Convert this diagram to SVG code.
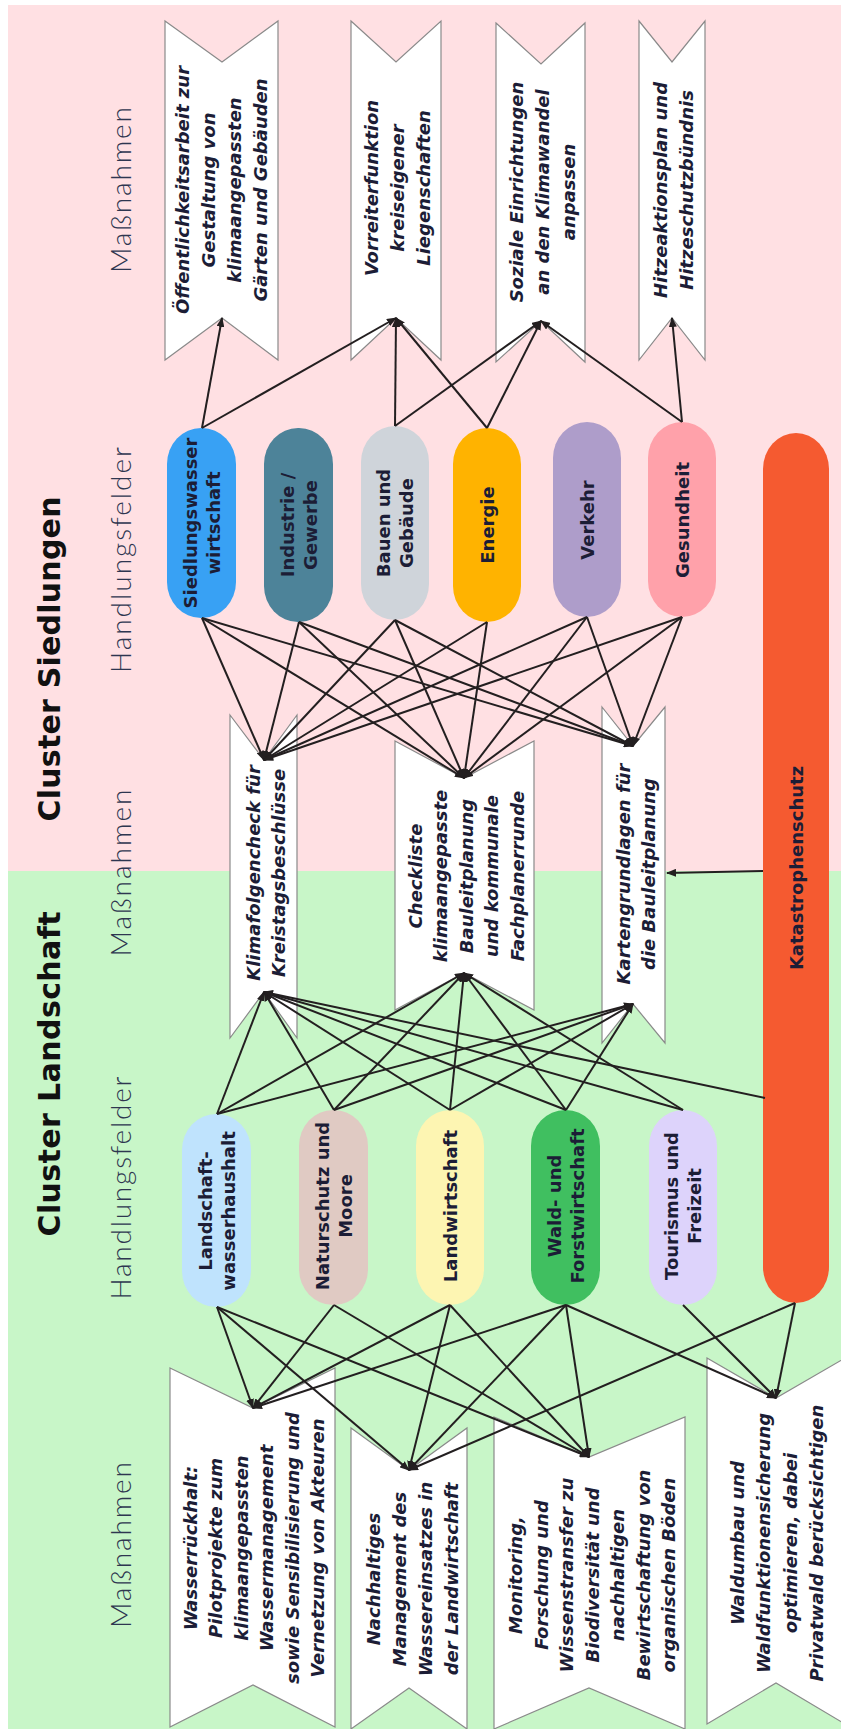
<svg xmlns="http://www.w3.org/2000/svg" width="841" height="1729" viewBox="0 0 841 1729">
<defs>
<style>
.title{font-family:"DejaVu Sans",sans-serif;font-weight:bold;font-size:30px;fill:#111;text-anchor:middle}
.col{font-family:Lato,"DejaVu Sans",sans-serif;font-weight:300;font-size:28px;fill:#2e3650;text-anchor:middle}
.pt{font-family:"DejaVu Sans",sans-serif;font-weight:bold;font-size:18px;fill:#1c1d36;text-anchor:middle}
.bt{font-family:"DejaVu Sans",sans-serif;font-weight:bold;font-style:italic;font-size:18px;fill:#1c1d36;text-anchor:middle}
.box{fill:#fff;stroke:#8a8a8a;stroke-width:1.2}
#connectors line{stroke:#231f20;stroke-width:2;marker-end:url(#ah)}
</style>
<marker id="ah" viewBox="0 0 10 8" refX="9" refY="4" markerWidth="10" markerHeight="8" markerUnits="userSpaceOnUse" orient="auto"><path d="M0,0 L10,4 L0,8 z" fill="#231f20"/></marker>
</defs>

<g id="background">
<rect x="8" y="5" width="833" height="866" fill="#ffe0e3"/>
<rect x="8" y="871" width="833" height="858" fill="#c8f6c8"/>
</g>

<g id="labels">
<text class="title" transform="rotate(-90)" x="-659" y="60" textLength="325">Cluster Siedlungen</text>
<text class="title" transform="rotate(-90)" x="-1074" y="60" textLength="325">Cluster Landschaft</text>
<text class="col" transform="rotate(-90)" x="-190" y="131" textLength="166">Maßnahmen</text>
<text class="col" transform="rotate(-90)" x="-560" y="131" textLength="226">Handlungsfelder</text>
<text class="col" transform="rotate(-90)" x="-873" y="131" textLength="167">Maßnahmen</text>
<text class="col" transform="rotate(-90)" x="-1188" y="131" textLength="223">Handlungsfelder</text>
<text class="col" transform="rotate(-90)" x="-1545" y="131" textLength="166">Maßnahmen</text>
</g>

<!-- Maßnahmen Siedlungen oben -->
<g id="m-oeffentlichkeit">
<polygon class="box" points="165,21 222,62 278,21 278,360 222,318 165,360"/>
<text class="bt" transform="rotate(-90)"><tspan x="-190" y="189">Öffentlichkeitsarbeit zur</tspan><tspan x="-190" y="215">Gestaltung von</tspan><tspan x="-190" y="241">klimaangepassten</tspan><tspan x="-190" y="267">Gärten und Gebäuden</tspan></text>
</g>
<g id="m-vorreiter">
<polygon class="box" points="351,21 396,62 441,21 441,360 396,318 351,360"/>
<text class="bt" transform="rotate(-90)"><tspan x="-188" y="377.5">Vorreiterfunktion</tspan><tspan x="-188" y="403.5">kreiseigener</tspan><tspan x="-188" y="429.5">Liegenschaften</tspan></text>
</g>
<g id="m-soziale">
<polygon class="box" points="496,23 541,64 585,23 585,362 541,321 496,362"/>
<text class="bt" transform="rotate(-90)"><tspan x="-192" y="522.5">Soziale Einrichtungen</tspan><tspan x="-192" y="548.5">an den Klimawandel</tspan><tspan x="-192" y="574.5">anpassen</tspan></text>
</g>
<g id="m-hitze">
<polygon class="box" points="639,21 672,62 705,21 705,360 672,318 639,360"/>
<text class="bt" transform="rotate(-90)"><tspan x="-190" y="667">Hitzeaktionsplan und</tspan><tspan x="-190" y="693">Hitzeschutzbündnis</tspan></text>
</g>

<!-- Handlungsfelder Siedlungen -->
<g id="hf-siedlungswasser">
<rect x="167" y="428" width="69" height="190" rx="34" ry="36" fill="#38a1f4"/>
<text class="pt" transform="rotate(-90)"><tspan x="-523" y="196.5">Siedlungswasser</tspan><tspan x="-523" y="219.5">wirtschaft</tspan></text>
</g>
<g id="hf-industrie">
<rect x="264" y="428" width="69" height="194" rx="34" ry="36" fill="#4d8399"/>
<text class="pt" transform="rotate(-90)"><tspan x="-525" y="293.5">Industrie /</tspan><tspan x="-525" y="316.5">Gewerbe</tspan></text>
</g>
<g id="hf-bauen">
<rect x="361" y="426" width="68" height="194" rx="34" ry="36" fill="#cfd4da"/>
<text class="pt" transform="rotate(-90)"><tspan x="-523" y="390">Bauen und</tspan><tspan x="-523" y="413">Gebäude</tspan></text>
</g>
<g id="hf-energie">
<rect x="453" y="428" width="68" height="194" rx="34" ry="36" fill="#ffb300"/>
<text class="pt" transform="rotate(-90)" x="-525" y="493.5">Energie</text>
</g>
<g id="hf-verkehr">
<rect x="553" y="422" width="68" height="195" rx="34" ry="36" fill="#ae9dca"/>
<text class="pt" transform="rotate(-90)" x="-520" y="593.5">Verkehr</text>
</g>
<g id="hf-gesundheit">
<rect x="648" y="422" width="68" height="195" rx="34" ry="36" fill="#ffa1aa"/>
<text class="pt" transform="rotate(-90)" x="-520" y="688.5">Gesundheit</text>
</g>
<g id="hf-katastrophenschutz">
<rect x="763" y="433" width="66" height="870" rx="33" ry="36" fill="#f55a30"/>
<text class="pt" transform="rotate(-90)" x="-868" y="802.5">Katastrophenschutz</text>
</g>

<!-- Maßnahmen Mitte -->
<g id="m-klimafolgencheck">
<polygon class="box" points="230,715 264,760 297,715 297,1038 264,992 230,1038"/>
<text class="bt" transform="rotate(-90)"><tspan x="-873" y="259.5">Klimafolgencheck für</tspan><tspan x="-873" y="284.5">Kreistagsbeschlüsse</tspan></text>
</g>
<g id="m-checkliste">
<polygon class="box" points="395,741 464,778 534,741 534,1010 464,973 395,1010"/>
<text class="bt" transform="rotate(-90)"><tspan x="-876" y="421.5">Checkliste</tspan><tspan x="-876" y="447">klimaangepasste</tspan><tspan x="-876" y="472.5">Bauleitplanung</tspan><tspan x="-876" y="498">und kommunale</tspan><tspan x="-876" y="523.5">Fachplanerrunde</tspan></text>
</g>
<g id="m-kartengrundlagen">
<polygon class="box" points="602,707 633,746 665,707 665,1043 633,1004 602,1043"/>
<text class="bt" transform="rotate(-90)"><tspan x="-874" y="630">Kartengrundlagen für</tspan><tspan x="-874" y="655">die Bauleitplanung</tspan></text>
</g>

<!-- Handlungsfelder Landschaft -->
<g id="hf-landschaftswasser">
<rect x="182" y="1114" width="69" height="193" rx="34" ry="36" fill="#bfe3fd"/>
<text class="pt" transform="rotate(-90)"><tspan x="-1211" y="211.5">Landschaft-</tspan><tspan x="-1211" y="234.5">wasserhaushalt</tspan></text>
</g>
<g id="hf-naturschutz">
<rect x="299" y="1110" width="69" height="195" rx="34" ry="36" fill="#e0cac3"/>
<text class="pt" transform="rotate(-90)"><tspan x="-1206" y="328.5">Naturschutz und</tspan><tspan x="-1206" y="351.5">Moore</tspan></text>
</g>
<g id="hf-landwirtschaft">
<rect x="416" y="1110" width="68" height="195" rx="34" ry="36" fill="#fdf5b2"/>
<text class="pt" transform="rotate(-90)" x="-1206" y="456.5">Landwirtschaft</text>
</g>
<g id="hf-wald">
<rect x="531" y="1110" width="69" height="195" rx="34" ry="36" fill="#40bf60"/>
<text class="pt" transform="rotate(-90)"><tspan x="-1206" y="560.5">Wald- und</tspan><tspan x="-1206" y="583.5">Forstwirtschaft</tspan></text>
</g>
<g id="hf-tourismus">
<rect x="649" y="1110" width="68" height="195" rx="34" ry="36" fill="#ddd3fb"/>
<text class="pt" transform="rotate(-90)"><tspan x="-1206" y="678">Tourismus und</tspan><tspan x="-1206" y="701">Freizeit</tspan></text>
</g>

<!-- Maßnahmen Landschaft unten -->
<g id="m-wasserrueckhalt">
<polygon class="box" points="170,1368 253,1408 335,1368 335,1727 253,1685 170,1727"/>
<text class="bt" transform="rotate(-90)"><tspan x="-1548" y="197">Wasserrückhalt:</tspan><tspan x="-1548" y="222.4">Pilotprojekte zum</tspan><tspan x="-1548" y="247.8">klimaangepassten</tspan><tspan x="-1548" y="273.2">Wassermanagement</tspan><tspan x="-1548" y="298.6">sowie Sensibilisierung und</tspan><tspan x="-1548" y="324">Vernetzung von Akteuren</tspan></text>
</g>
<g id="m-wassereinsatz">
<polygon class="box" points="351,1428 409,1470 467,1428 467,1729 409,1688 351,1729"/>
<text class="bt" transform="rotate(-90)"><tspan x="-1579" y="379.5">Nachhaltiges</tspan><tspan x="-1579" y="405.5">Management des</tspan><tspan x="-1579" y="431.5">Wassereinsatzes in</tspan><tspan x="-1579" y="457.5">der Landwirtschaft</tspan></text>
</g>
<g id="m-monitoring">
<polygon class="box" points="494,1417 589,1457 685,1417 685,1729 589,1688 494,1729"/>
<text class="bt" transform="rotate(-90)"><tspan x="-1575" y="522">Monitoring,</tspan><tspan x="-1575" y="547.5">Forschung und</tspan><tspan x="-1575" y="573">Wissenstransfer zu</tspan><tspan x="-1575" y="598.5">Biodiversität und</tspan><tspan x="-1575" y="624">nachhaltigen</tspan><tspan x="-1575" y="649.5">Bewirtschaftung von</tspan><tspan x="-1575" y="675">organischen Böden</tspan></text>
</g>
<g id="m-waldumbau">
<polygon class="box" points="707,1358 776,1398 845,1358 845,1724 776,1683 707,1724"/>
<text class="bt" transform="rotate(-90)"><tspan x="-1543" y="743.8">Waldumbau und</tspan><tspan x="-1543" y="770.3">Waldfunktionensicherung</tspan><tspan x="-1543" y="796.8">optimieren, dabei</tspan><tspan x="-1543" y="823.3">Privatwald berücksichtigen</tspan></text>
</g>

<g id="connectors">
<!-- oben -->
<line x1="202" y1="428" x2="222" y2="318"/>
<line x1="202" y1="428" x2="396" y2="318"/>
<line x1="395" y1="426" x2="396" y2="318"/>
<line x1="395" y1="426" x2="541" y2="321"/>
<line x1="487" y1="428" x2="396" y2="318"/>
<line x1="487" y1="428" x2="541" y2="321"/>
<line x1="682" y1="422" x2="541" y2="321"/>
<line x1="682" y1="422" x2="672" y2="318"/>
<!-- Mitte oben -->
<line x1="202" y1="618" x2="264" y2="760"/>
<line x1="202" y1="618" x2="464" y2="778"/>
<line x1="202" y1="618" x2="633" y2="746"/>
<line x1="299" y1="622" x2="264" y2="760"/>
<line x1="299" y1="622" x2="464" y2="778"/>
<line x1="299" y1="622" x2="633" y2="746"/>
<line x1="395" y1="620" x2="264" y2="760"/>
<line x1="395" y1="620" x2="464" y2="778"/>
<line x1="395" y1="620" x2="633" y2="746"/>
<line x1="487" y1="622" x2="264" y2="760"/>
<line x1="487" y1="622" x2="464" y2="778"/>
<line x1="587" y1="617" x2="264" y2="760"/>
<line x1="587" y1="617" x2="464" y2="778"/>
<line x1="587" y1="617" x2="633" y2="746"/>
<line x1="682" y1="617" x2="264" y2="760"/>
<line x1="682" y1="617" x2="464" y2="778"/>
<line x1="682" y1="617" x2="633" y2="746"/>
<!-- Mitte unten -->
<line x1="217" y1="1114" x2="264" y2="992"/>
<line x1="217" y1="1114" x2="464" y2="973"/>
<line x1="217" y1="1114" x2="633" y2="1004"/>
<line x1="334" y1="1110" x2="264" y2="992"/>
<line x1="334" y1="1110" x2="464" y2="973"/>
<line x1="334" y1="1110" x2="633" y2="1004"/>
<line x1="450" y1="1110" x2="264" y2="992"/>
<line x1="450" y1="1110" x2="464" y2="973"/>
<line x1="450" y1="1110" x2="633" y2="1004"/>
<line x1="566" y1="1110" x2="264" y2="992"/>
<line x1="566" y1="1110" x2="464" y2="973"/>
<line x1="566" y1="1110" x2="633" y2="1004"/>
<line x1="683" y1="1110" x2="264" y2="992"/>
<line x1="683" y1="1110" x2="464" y2="973"/>
<line x1="765" y1="1098" x2="264" y2="992"/>
<line x1="763" y1="871" x2="667" y2="873"/>
<!-- unten -->
<line x1="217" y1="1307" x2="253" y2="1408"/>
<line x1="217" y1="1307" x2="409" y2="1470"/>
<line x1="217" y1="1307" x2="589" y2="1457"/>
<line x1="334" y1="1305" x2="253" y2="1408"/>
<line x1="334" y1="1305" x2="589" y2="1457"/>
<line x1="450" y1="1305" x2="253" y2="1408"/>
<line x1="450" y1="1305" x2="409" y2="1470"/>
<line x1="450" y1="1305" x2="589" y2="1457"/>
<line x1="566" y1="1305" x2="253" y2="1408"/>
<line x1="566" y1="1305" x2="409" y2="1470"/>
<line x1="566" y1="1305" x2="589" y2="1457"/>
<line x1="566" y1="1305" x2="776" y2="1398"/>
<line x1="683" y1="1305" x2="776" y2="1398"/>
<line x1="795" y1="1303" x2="409" y2="1470"/>
<line x1="795" y1="1303" x2="776" y2="1398"/>
</g>
</svg>
